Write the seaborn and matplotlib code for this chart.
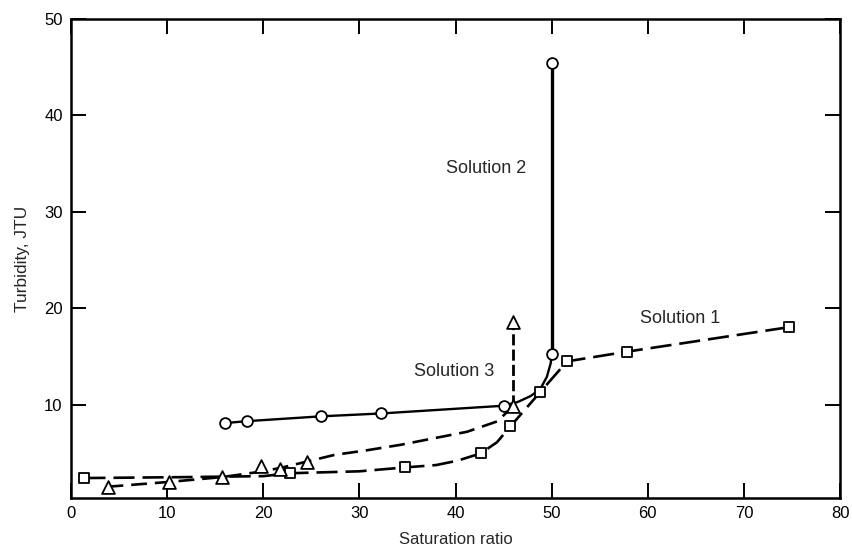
import matplotlib
matplotlib.use("Agg")
import pandas as pd
import matplotlib.pyplot as plt
import seaborn as sns

# Solution 1: open squares, long dashes
SOL1_X = [1.4, 22.8, 34.7, 42.6, 45.7, 48.8, 51.6, 57.8, 74.7]
SOL1_Y = [2.4, 2.9, 3.5, 4.95, 7.75, 11.3, 14.5, 15.5, 18.05]
# drawn curve of solution 1 (includes the bends)
SOL1_PATH_X = [1.4, 12.0, 20.0, 22.8, 30.0, 34.7, 38.0, 40.2, 42.6, 44.3, 45.7, 48.8, 51.6, 57.8, 74.7]
SOL1_PATH_Y = [2.4, 2.5, 2.6, 2.9, 3.1, 3.5, 3.75, 4.2, 4.95, 6.1, 7.75, 11.3, 14.5, 15.5, 18.05]

# Solution 2: open circles, solid
SOL2_X = [16.0, 18.3, 26.0, 32.3, 45.0, 50.0, 50.0]
SOL2_Y = [8.1, 8.3, 8.8, 9.1, 9.9, 15.3, 45.4]
SOL2_PATH_X = [16.0, 18.3, 26.0, 32.3, 45.0, 46.5, 47.8, 48.8, 49.5, 49.9, 50.0, 50.0]
SOL2_PATH_Y = [8.1, 8.3, 8.8, 9.1, 9.9, 10.3, 10.9, 11.6, 12.9, 14.3, 15.3, 45.4]

# Solution 3: open triangles, medium dashes, arrow going up at the end
SOL3_X = [3.8, 10.2, 15.7, 19.8, 21.7, 24.5, 46.0]
SOL3_Y = [1.5, 2.0, 2.5, 3.6, 3.3, 4.1, 9.9]
SOL3_PATH_X = [3.8, 10.2, 15.7, 20.0, 22.0, 24.5, 27.4, 30.9, 34.3, 41.2, 44.4, 46.0]
SOL3_PATH_Y = [1.5, 2.0, 2.5, 3.1, 3.5, 4.1, 4.8, 5.3, 5.85, 7.2, 8.3, 9.9]
ARROW_X = [46.0, 46.0]
ARROW_Y = [9.9, 18.6]

LABELS = ["Solution 1", "Solution 2", "Solution 3"]
LABEL_X = [63.4, 43.2, 39.9]
LABEL_Y = [18.9, 34.5, 13.45]

X_TICKS = [0, 10, 20, 30, 40, 50, 60, 70, 80]
Y_TICKS = [10, 20, 30, 40, 50]

sns.set_style("ticks")
plt.rcParams["font.family"] = ["Liberation Sans", "DejaVu Sans"]

fig = plt.figure(figsize=(8.52, 5.48), dpi=100)
ax = fig.add_axes([0.0833, 0.0912, 0.9027, 0.8741])

line_kw = dict(sort=False, estimator=None, color="black", ax=ax, legend=False)
sns.lineplot(x=SOL1_PATH_X, y=SOL1_PATH_Y, linewidth=1.9,
             linestyle=(0, (8, 3)), zorder=2, **line_kw)
sns.lineplot(x=SOL3_PATH_X, y=SOL3_PATH_Y, linewidth=1.9,
             linestyle=(0, (6, 3)), zorder=2, **line_kw)
sns.lineplot(x=ARROW_X, y=ARROW_Y, linewidth=2.0,
             linestyle=(0, (4, 1.5)), zorder=2, **line_kw)
sns.lineplot(x=SOL2_PATH_X[:-1], y=SOL2_PATH_Y[:-1], linewidth=1.7, zorder=2, **line_kw)
sns.lineplot(x=SOL2_PATH_X[-2:], y=SOL2_PATH_Y[-2:], linewidth=2.4, zorder=2, **line_kw)

mk = dict(color="white", edgecolor="black", linewidth=1.3, zorder=5, ax=ax, legend=False)
sns.scatterplot(x=SOL1_X, y=SOL1_Y, marker="s", s=55, **mk)
sns.scatterplot(x=SOL2_X, y=SOL2_Y, marker="o", s=60, **mk)
sns.scatterplot(x=SOL3_X, y=SOL3_Y, marker="^", s=85, **mk)
sns.scatterplot(x=ARROW_X[-1:], y=ARROW_Y[-1:], marker="^", s=85, **mk)

for txt, tx, ty in zip(LABELS, LABEL_X, LABEL_Y):
    ax.text(tx, ty, txt, ha="center", va="center", fontsize=13)

ax.set_xlim(0.25, 80)
ax.set_ylim(0.33, 50)
ax.set_xticks(X_TICKS)
ax.set_yticks(Y_TICKS)
ax.tick_params(direction="in", length=11, width=1.4, top=True, right=True,
               labelsize=12, pad=6, colors="black")
ax.set_xlabel("Saturation ratio", fontsize=12, labelpad=8)
ax.set_ylabel("Turbidity, JTU", fontsize=12.5, labelpad=10)
for sp in ax.spines.values():
    sp.set_linewidth(1.8)
    sp.set_color("black")

fig.savefig("out.png", dpi=100)
